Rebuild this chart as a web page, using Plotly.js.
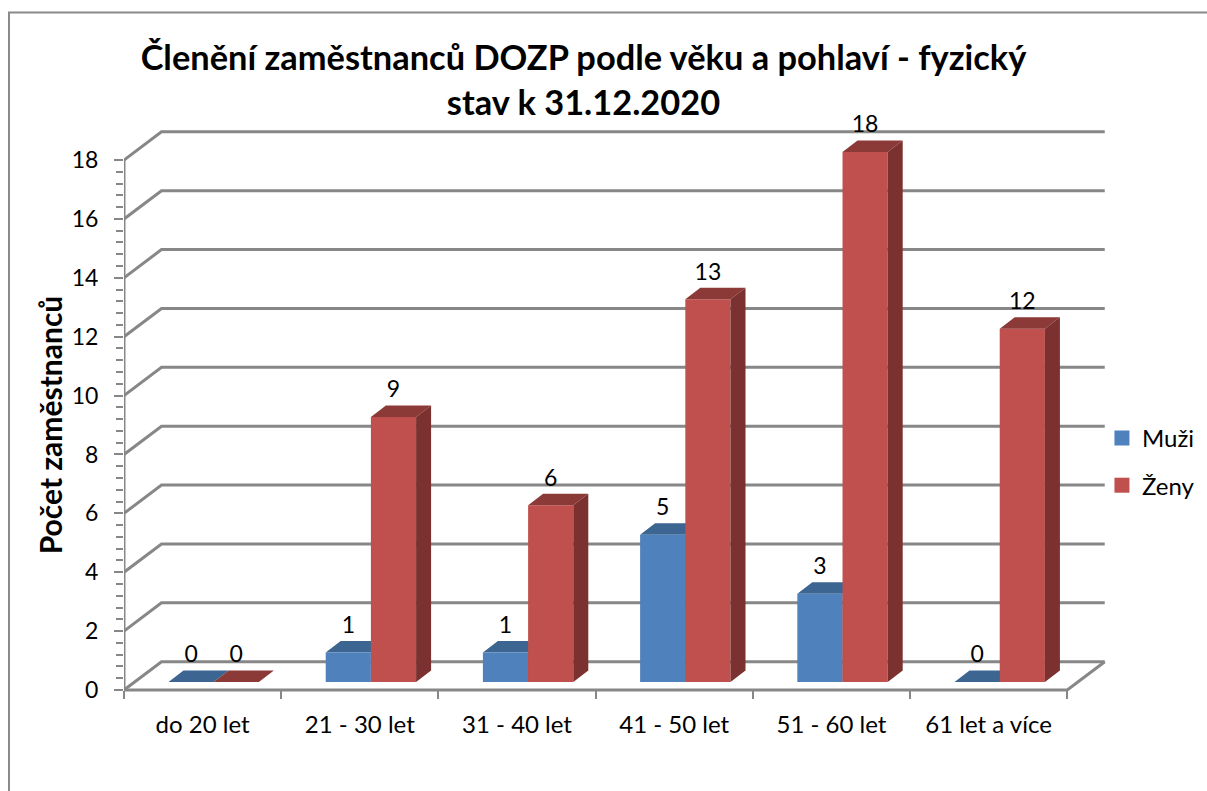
<!DOCTYPE html>
<html>
<head>
<meta charset="utf-8">
<script src="https://cdn.plot.ly/plotly-3.0.1.min.js"></script>
<style>html,body{margin:0;padding:0;background:#fff}#c{width:1207px;height:791px}</style>
</head>
<body>
<div id="c"></div>
<script>
const categories = ["do 20 let","21 - 30 let","31 - 40 let","41 - 50 let","51 - 60 let","61 let a více"];
const muzi = [0,1,1,5,3,0];
const zeny = [0,9,6,13,18,12];
const yTicks = [0,2,4,6,8,10,12,14,16,18];
const chartTitle = "Členění zaměstnanců DOZP podle věku a pohlaví - fyzický<br>stav k 31.12.2020";
const yTitle = "Počet zaměstnanců";

// pseudo-3D geometry, in axis units
const wallDX = 0.2385, wallDY = 0.96;
const barDX = 0.0954, barDY = 0.39, barBase = 0.272, barW = 0.2875;
const offM = -0.217, offZ = 0.0705;
const xLo = -0.5, xHi = 5.5;
const GRID = '#878787', FONT = 'Lato, Carlito, sans-serif';
const idx = categories.map((_, i) => i);

function gridTrace() {
  const x = [], y = [];
  yTicks.forEach(v => {
    x.push(xLo, xLo + wallDX, xHi + wallDX, null);
    y.push(v, v + wallDY, v + wallDY, null);
  });
  return {type:'scatter', mode:'lines', x, y, line:{color:GRID, width:3}, hoverinfo:'skip', showlegend:false, zorder:0, cliponaxis:false};
}
function frameTrace() {
  return {type:'scatter', mode:'lines',
    x:[xLo, xLo, null, xLo, xHi, xHi + wallDX],
    y:[yTicks[yTicks.length-1], 0, null, 0, 0, wallDY],
    line:{color:GRID, width:3}, hoverinfo:'skip', showlegend:false, zorder:0, cliponaxis:false};
}
function faces(values, off, color, which, z) {
  const x = [], y = [];
  values.forEach((v, i) => {
    const l = i + off, r = l + barW, b = barBase, t = barBase + v;
    if (which === 'top') {
      x.push(l, l + barDX, r + barDX, r, l, null);
      y.push(t, t + barDY, t + barDY, t, t, null);
    } else if (v > 0) {
      x.push(r, r + barDX, r + barDX, r, r, null);
      y.push(b, b + barDY, t + barDY, t, b, null);
    }
  });
  return {type:'scatter', mode:'lines', x, y, fill:'toself', fillcolor:color, line:{width:0, color:color}, hoverinfo:'skip', showlegend:false, zorder:z};
}
function front(values, off, color, name, z) {
  return {type:'bar', name, x:idx, y:values, base:values.map(() => barBase), offset:off, width:barW,
    marker:{color, line:{width:0}}, showlegend:false, zorder:z, hovertemplate:'%{y}<extra>'+name+'</extra>'};
}
function labels(values, off) {
  return {type:'scatter', mode:'text', x:idx.map(i => i + off + barW/2), y:values.map(v => barBase + v + 0.86),
    text:values.map(String), textposition:'middle center', textfont:{family:FONT, size:23, color:'#000'},
    hoverinfo:'skip', showlegend:false, zorder:5, cliponaxis:false};
}
function legendItem(name, color) {
  return {type:'scatter', mode:'markers', name, x:[null], y:[null], legendgroup:name,
    marker:{symbol:'square', size:15, color}, zorder:0};
}
const traces = [
  gridTrace(), frameTrace(),
  faces(muzi, offM, '#7a2f2d', 'side', 1),
  faces(muzi, offM, '#3d6591', 'top', 1),
  front(muzi, offM, '#4f81bd', 'Muži', 2),
  faces(zeny, offZ, '#8b3a38', 'top', 3),
  front(zeny, offZ, '#c0504d', 'Ženy', 3),
  faces(zeny, offZ, '#7a3130', 'side', 3),
  labels(muzi, offM), labels(zeny, offZ),
  legendItem('Muži', '#4f81bd'), legendItem('Ženy', '#c0504d')
];
const minorY = [];
for (let k = 0; k <= 45; k++) minorY.push(k * 18 / 45);

const layout = {
  width:1207, height:791, paper_bgcolor:'#fff', plot_bgcolor:'rgba(0,0,0,0)',
  margin:{l:124, r:0, t:100, b:41}, barmode:'overlay', hovermode:false,
  font:{family:FONT, size:24, color:'#000'},
  title:{text:chartTitle, font:{family:FONT, size:34.4, color:'#000', weight:700}, x:583.5/1207, xref:'container', xanchor:'center', y:0.911, yref:'container', yanchor:'top'},
  xaxis:{range:[-0.5, 6.389], anchor:'free', position:60/650, tickmode:'array', tickvals:idx, ticktext:categories,
    ticks:'', showgrid:false, zeroline:false, showline:false, ticklabelstandoff:18, tickfont:{family:FONT, size:24},
    minor:{tickmode:'array', tickvals:[-0.5,0.5,1.5,2.5,3.5,4.5,5.5], ticks:'outside', ticklen:8, tickwidth:2, tickcolor:GRID, showgrid:false}},
  yaxis:{range:[-2.038, 20.04], tickmode:'array', tickvals:yTicks, ticks:'outside', ticklen:9, tickwidth:2, tickcolor:GRID,
    showgrid:false, zeroline:false, showline:false, ticklabelstandoff:11, tickfont:{family:FONT, size:23},
    minor:{tickmode:'array', tickvals:minorY, ticks:'outside', ticklen:7, tickwidth:2, tickcolor:GRID, showgrid:false},
    title:{text:yTitle, font:{family:FONT, size:30, color:'#000', weight:700}, standoff:0}},
  legend:{x:0.903, xanchor:'left', y:0.514, yanchor:'top', traceorder:'grouped', tracegroupgap:13, font:{family:FONT, size:24}, bgcolor:'rgba(0,0,0,0)', itemclick:false, itemdoubleclick:false},
  showlegend:true,
  shapes:[{type:'path', xref:'paper', yref:'paper', layer:'below',
    path:'M '+((9-124)/1083)+' '+((750-791)/650)+' L '+((9-124)/1083)+' '+((750-12.5)/650)+' L 1 '+((750-12.5)/650),
    line:{color:'#8a8a8a', width:2}}]
};
Plotly.newPlot('c', traces, layout, {displayModeBar:false, responsive:false});
</script>
</body>
</html>
